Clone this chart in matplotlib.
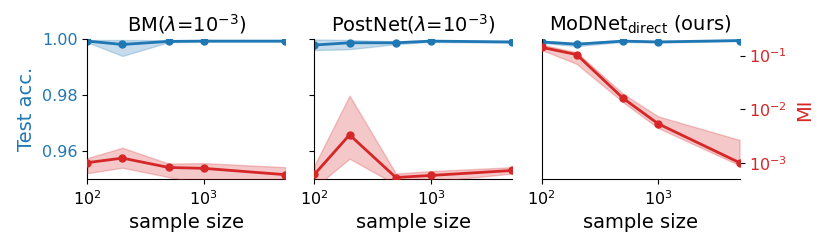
import matplotlib
matplotlib.use("Agg")
import matplotlib.pyplot as plt
import matplotlib.ticker as mticker

# x values shared by all panels
sample_sizes = [100, 200, 500, 1000, 5000]

titles = ["BM($\\lambda$=$10^{-3}$)", "PostNet($\\lambda$=$10^{-3}$)",
          "MoDNet$_{\\mathrm{direct}}$ (ours)"]

# test accuracy (mean, lower, upper)
bm_acc = [0.9994, 0.9982, 0.9993, 0.9994, 0.9994]
bm_acc_lo = [0.9990, 0.9941, 0.9990, 0.9992, 0.9992]
bm_acc_hi = [0.9998, 0.9998, 0.9997, 0.9997, 0.9997]

pn_acc = [0.9980, 0.9988, 0.9988, 0.9994, 0.9991]
pn_acc_lo = [0.9962, 0.9965, 0.9983, 0.9991, 0.9988]
pn_acc_hi = [1.0000, 0.9998, 0.9993, 0.9997, 0.9994]

md_acc = [0.9991, 0.9983, 0.9994, 0.9991, 0.9996]
md_acc_lo = [0.9988, 0.9976, 0.9991, 0.9989, 0.9994]
md_acc_hi = [0.9995, 0.9988, 0.9997, 0.9994, 0.9998]

# mutual information (mean, lower, upper)
bm_mi = [1.02e-3, 1.24e-3, 8.3e-4, 8.0e-4, 6.1e-4]
bm_mi_lo = [6.5e-4, 8.2e-4, 5.5e-4, 4.2e-4, 4.0e-4]
bm_mi_hi = [1.24e-3, 1.93e-3, 9.8e-4, 1.0e-3, 8.4e-4]

pn_mi = [6.2e-4, 3.36e-3, 5.4e-4, 5.9e-4, 7.3e-4]
pn_mi_lo = [3.5e-4, 1.21e-3, 4.0e-4, 4.5e-4, 6.4e-4]
pn_mi_hi = [9.1e-4, 1.8e-2, 6.4e-4, 7.1e-4, 8.4e-4]

md_mi = [0.1425, 0.1045, 0.0161, 5.4e-3, 1.02e-3]
md_mi_lo = [0.128, 0.070, 0.0136, 4.5e-3, 9.1e-4]
md_mi_hi = [0.160, 0.115, 0.0195, 7.4e-3, 2.7e-3]

acc_sets = [(bm_acc, bm_acc_lo, bm_acc_hi), (pn_acc, pn_acc_lo, pn_acc_hi),
            (md_acc, md_acc_lo, md_acc_hi)]
mi_sets = [(bm_mi, bm_mi_lo, bm_mi_hi), (pn_mi, pn_mi_lo, pn_mi_hi),
           (md_mi, md_mi_lo, md_mi_hi)]

blue = "tab:blue"
red = "tab:red"

fig, axes = plt.subplots(1, 3, figsize=(8.3, 2.48), dpi=100)
fig.subplots_adjust(left=0.1052, right=0.891, bottom=0.277, top=0.841, wspace=0.148)

for i, ax in enumerate(axes):
    acc, acc_lo, acc_hi = acc_sets[i]
    mi, mi_lo, mi_hi = mi_sets[i]

    ax.fill_between(sample_sizes, acc_lo, acc_hi, color=blue, alpha=0.25)
    ax.plot(sample_sizes, acc, "o-", color=blue, lw=2, ms=5)
    ax.set_xscale("log")
    ax.set_xlim(100, 5000)
    ax.set_ylim(0.95, 1.0)
    ax.set_yticks([0.96, 0.98, 1.00])
    ax.xaxis.set_minor_locator(mticker.NullLocator())
    ax.tick_params(axis="both", labelsize=11.5)
    ax.set_xlabel("sample size", fontsize=14)
    ax.set_title(titles[i], fontsize=14)
    ax.spines["top"].set_visible(False)
    ax.spines["right"].set_visible(False)

    ax2 = ax.twinx()
    ax2.fill_between(sample_sizes, mi_lo, mi_hi, color=red, alpha=0.25)
    ax2.plot(sample_sizes, mi, "o-", color=red, lw=2, ms=5)
    ax2.set_yscale("log")
    ax2.set_ylim(5e-4, 0.2)
    ax2.set_yticks([1e-3, 1e-2, 1e-1])
    ax2.yaxis.set_minor_locator(mticker.NullLocator())
    for s in ["top", "right", "left", "bottom"]:
        ax2.spines[s].set_visible(False)

    if i == 0:
        ax.tick_params(axis="y", labelcolor=blue)
        ax.set_ylabel("Test acc.", color=blue, fontsize=14)
    else:
        ax.tick_params(axis="y", labelleft=False)
    if i == 2:
        ax.tick_params(axis="y", length=0)
        ax2.tick_params(axis="y", labelcolor=red, labelsize=11.5)
        ax2.set_ylabel("MI", color=red, fontsize=14, labelpad=6)
    else:
        ax2.tick_params(axis="y", length=0, labelright=False)

fig.savefig("out.png", dpi=100)
